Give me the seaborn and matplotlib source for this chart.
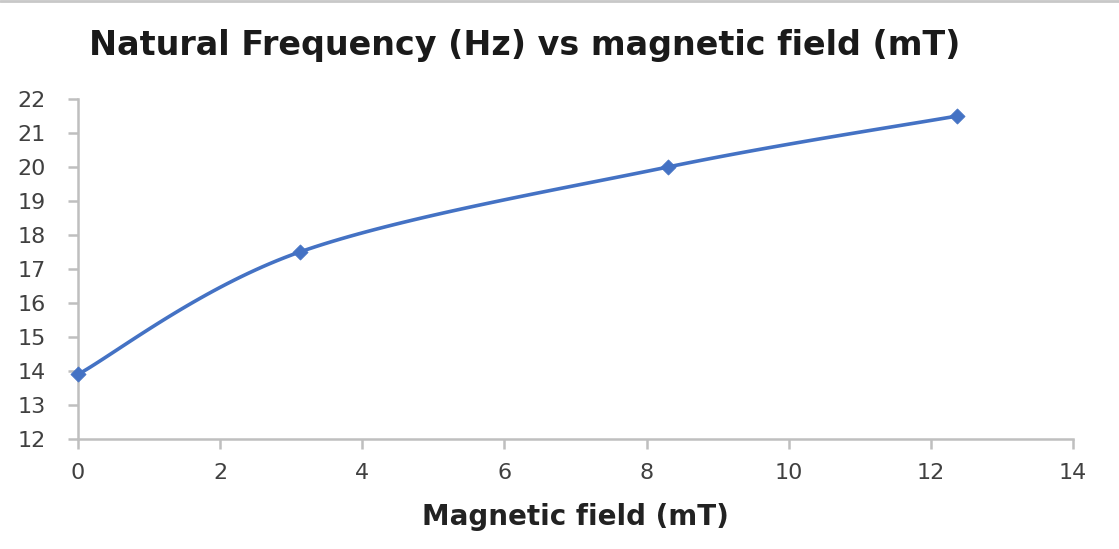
import numpy as np
import pandas as pd
import matplotlib.pyplot as plt
import seaborn as sns

# values
field_mT = [0.0, 3.12, 8.3, 12.37]
freq_hz = [13.9, 17.5, 20.0, 21.5]
x_ticks = [0, 2, 4, 6, 8, 10, 12, 14]
y_ticks = [12, 13, 14, 15, 16, 17, 18, 19, 20, 21, 22]

title = "Natural Frequency (Hz) vs magnetic field (mT)"
x_label = "Magnetic field (mT)"
y_label = "Natural Frequency (Hz)"

line_color = "#4472C4"
axis_color = "#BFBFBF"
text_color = "#404040"


def excel_smooth(xs, ys, n=40):
    # Excel-style smoothed line: cubic Bezier between points,
    # control points from neighbours (tension 1/6)
    pts = np.column_stack([xs, ys])
    ext = np.vstack([pts[0], pts, pts[-1]])
    t = np.linspace(0, 1, n)[:, None]
    out = []
    for i in range(1, len(ext) - 2):
        p0, p3 = ext[i], ext[i + 1]
        c1 = p0 + (ext[i + 1] - ext[i - 1]) / 6
        c2 = p3 - (ext[i + 2] - ext[i]) / 6
        seg = ((1 - t) ** 3) * p0 + 3 * ((1 - t) ** 2) * t * c1 \
            + 3 * (1 - t) * t ** 2 * c2 + t ** 3 * p3
        out.append(seg if i == 1 else seg[1:])
    curve = np.vstack(out)
    return curve[:, 0], curve[:, 1]


sns.set_theme(style="white")
plt.rcParams['font.family'] = ['DejaVu Sans']

fig = plt.figure(figsize=(11.19, 5.49), dpi=100)
ax = fig.add_axes([78 / 1119, 1 - 439 / 549, (1073 - 78) / 1119, (439 - 99) / 549])

sx, sy = excel_smooth(field_mT, freq_hz)
curve = pd.DataFrame({"x": sx, "y": sy})
points = pd.DataFrame({"x": field_mT, "y": freq_hz})

sns.lineplot(data=curve, x="x", y="y", sort=False, color=line_color,
             linewidth=2.6, ax=ax, clip_on=False)
sns.scatterplot(data=points, x="x", y="y", marker="D", s=60, color=line_color,
                edgecolor=line_color, linewidth=0.5, ax=ax, clip_on=False, zorder=5)

ax.set_xlim(0, 14)
ax.set_ylim(12, 22)
ax.set_xticks(x_ticks)
ax.set_yticks(y_ticks)

for side in ["top", "right"]:
    ax.spines[side].set_visible(False)
for side in ["left", "bottom"]:
    ax.spines[side].set_color(axis_color)
    ax.spines[side].set_linewidth(1.8)

ax.tick_params(axis="both", direction="out", length=7, width=1.8,
               bottom=True, left=True,
               color=axis_color, labelcolor=text_color, labelsize=16)
ax.tick_params(axis="y", pad=16)
ax.tick_params(axis="x", pad=10)

ax.set_xlabel(x_label, fontsize=20, fontweight="bold", color="#222222", labelpad=15)
ax.set_ylabel("")
fig.text(525 / 1119, 1 - 46 / 549, title, ha="center", va="center",
         fontsize=24, fontweight="bold", color="#1a1a1a")

# y-axis title mostly cut off at the left edge of the screenshot
fig.text(-0.012, 1 - 270 / 549, y_label, rotation=90, ha="center", va="center",
         fontsize=17, fontweight="bold", color="#222222")

# thin grey border at the top of the screenshot
fig.add_artist(plt.Line2D([0, 1], [0.998, 0.998], color="#C8C8C8", linewidth=2,
                          transform=fig.transFigure))

fig.savefig("out.png", dpi=100)
